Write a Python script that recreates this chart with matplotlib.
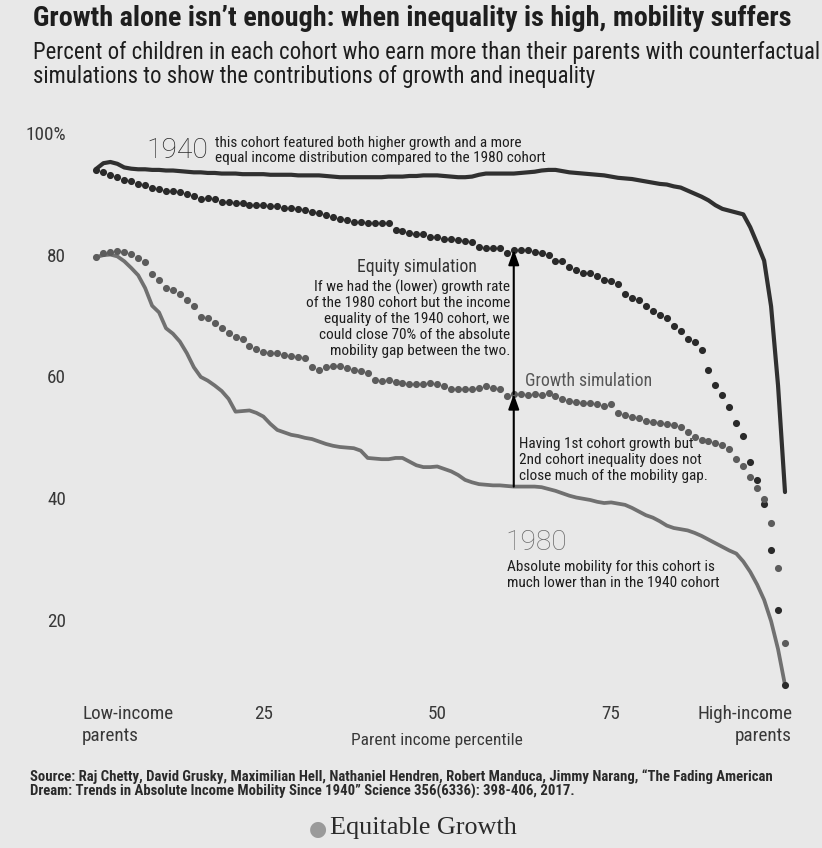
import matplotlib
matplotlib.use("Agg")
import matplotlib.pyplot as plt
from matplotlib import font_manager

# ---------------- data ----------------
percentiles = list(range(1, 101))

cohort_1940 = [94.1, 95.0, 95.2, 94.9, 94.3, 94.1, 94.0, 94.0, 93.9, 93.9,
               93.8, 93.8, 93.7, 93.6, 93.5, 93.5, 93.4, 93.4, 93.3, 93.3,
               93.3, 93.2, 93.2, 93.2, 93.2, 93.1, 93.1, 93.1, 93.1, 93.0,
               93.0, 93.0, 93.0, 92.9, 92.8, 92.7, 92.7, 92.7, 92.7, 92.7,
               92.7, 92.7, 92.8, 92.8, 92.8, 92.9, 92.9, 93.0, 93.0, 93.0,
               92.9, 92.8, 92.7, 92.7, 92.8, 93.1, 93.3, 93.3, 93.3, 93.3,
               93.3, 93.4, 93.5, 93.6, 93.8, 93.9, 93.9, 93.7, 93.5, 93.4,
               93.3, 93.2, 93.1, 93.0, 92.8, 92.6, 92.5, 92.4, 92.2, 92.0,
               91.8, 91.6, 91.5, 91.2, 91.0, 90.5, 90.0, 89.5, 88.9, 88.1,
               87.5, 87.2, 86.9, 86.6, 84.5, 81.8, 79.0, 71.5, 58.5, 41.0]

equity_sim = [93.9, 93.5, 93.1, 92.7, 92.3, 92.0, 91.6, 91.4, 91.0, 90.7,
              90.5, 90.5, 90.3, 89.9, 89.6, 89.1, 89.3, 89.1, 88.7, 88.6,
              88.5, 88.4, 88.2, 88.1, 88.1, 88.0, 87.9, 87.7, 87.6, 87.4,
              87.3, 87.0, 86.8, 86.5, 86.2, 85.9, 85.6, 85.4, 85.4, 85.2,
              85.1, 85.1, 85.2, 84.1, 83.8, 83.6, 83.3, 83.4, 82.8, 82.8,
              82.6, 82.5, 82.4, 82.3, 82.1, 81.3, 81.1, 81.1, 81.1, 80.3,
              80.8, 80.8, 80.7, 80.5, 80.3, 80.0, 79.0, 78.9, 77.9, 77.5,
              76.9, 76.9, 76.4, 75.9, 75.6, 75.2, 73.6, 72.9, 72.6, 71.5,
              70.8, 70.1, 69.6, 68.2, 67.4, 66.2, 65.6, 64.4, 61.1, 58.5,
              56.9, 54.9, 52.3, 50.2, 45.9, 43.0, 39.0, 31.5, 21.6, 9.3]

growth_sim = [79.6, 80.3, 80.5, 80.6, 80.4, 80.1, 79.4, 78.7, 76.8, 75.9,
              74.5, 74.2, 73.5, 72.5, 71.5, 69.7, 69.5, 68.7, 67.9, 67.2,
              66.4, 66.1, 65.0, 64.5, 64.0, 63.9, 63.8, 63.5, 63.3, 63.2,
              63.0, 61.6, 61.0, 61.6, 61.7, 61.7, 61.3, 61.0, 60.9, 60.5,
              59.4, 59.3, 59.4, 59.1, 58.9, 58.8, 58.8, 58.8, 58.9, 58.8,
              58.4, 58.0, 57.9, 57.9, 58.0, 58.1, 58.4, 58.1, 58.0, 56.7,
              57.1, 57.1, 57.0, 57.1, 57.0, 57.3, 56.7, 56.3, 56.0, 55.8,
              55.7, 55.6, 55.4, 55.1, 55.4, 53.9, 53.6, 53.3, 53.1, 52.7,
              52.5, 52.3, 52.1, 52.0, 51.7, 50.9, 50.0, 49.6, 49.4, 49.0,
              48.7, 48.1, 46.5, 45.2, 43.5, 41.6, 39.8, 35.9, 28.5, 16.2]

cohort_1980 = [79.6, 79.9, 80.0, 79.7, 78.9, 77.8, 76.6, 74.5, 71.6, 70.5,
               67.9, 67.0, 65.7, 63.8, 61.5, 59.9, 59.3, 58.5, 57.6, 56.3,
               54.2, 54.3, 54.4, 54.0, 53.4, 52.2, 51.2, 50.8, 50.4, 50.2,
               49.9, 49.7, 49.3, 48.9, 48.6, 48.4, 48.3, 48.2, 47.8, 46.6,
               46.5, 46.4, 46.4, 46.6, 46.6, 46.0, 45.4, 45.1, 45.1, 45.2,
               44.8, 44.4, 43.8, 43.0, 42.6, 42.3, 42.2, 42.1, 42.1, 42.0,
               41.9, 41.9, 41.9, 41.9, 41.8, 41.5, 41.2, 40.8, 40.4, 40.1,
               39.9, 39.7, 39.4, 39.2, 39.3, 39.1, 38.9, 38.4, 37.8, 37.2,
               36.8, 36.2, 35.5, 35.1, 34.9, 34.7, 34.3, 33.8, 33.2, 32.6,
               32.0, 31.4, 30.9, 29.6, 27.9, 25.8, 23.3, 19.8, 15.2, 9.3]

y_ticks = [20, 40, 60, 80, 100]
y_tick_labels = ["20", "40", "60", "80", "100%"]
x_ticks = [25, 50, 75]
x_tick_labels = ["25", "50", "75"]
arrow_pct = 61

# ---------------- style ----------------
names = {f.name for f in font_manager.fontManager.ttflist}
BASE = "Roboto Condensed" if "Roboto Condensed" in names else "Roboto"
FAM = [BASE, "DejaVu Sans"]
LIGHT = ["Roboto", "DejaVu Sans"]
plt.rcParams["font.family"] = FAM

BG = "#e8e8e8"
INK = "#1e1e1e"
W, H = 822, 848

fig = plt.figure(figsize=(W / 100, H / 100), dpi=100, facecolor=BG)
renderer = fig.canvas.get_renderer()


def fx(px):
    return px / W


def fy(py):
    return 1 - py / H


def fitted_size(text, target_px, **kw):
    t = fig.text(0, 0, text, fontsize=10, **kw)
    w = t.get_window_extent(renderer).width
    t.remove()
    return 10 * target_px / w


# axes: x 0..100 -> px 89.5..785 ; y 5..100 -> px 711.3..132.75
ax = fig.add_axes([fx(89.5), fy(711.3), (785 - 89.5) / W, (711.3 - 132.75) / H])
ax.set_facecolor(BG)
ax.set_xlim(0, 100)
ax.set_ylim(5, 100)
for s in ax.spines.values():
    s.set_visible(False)

ax.plot(percentiles, cohort_1940, color="#303030", lw=3.0, solid_capstyle="round",
        solid_joinstyle="round", clip_on=False, zorder=3)
ax.plot(percentiles, cohort_1980, color="#707070", lw=2.7, solid_capstyle="round",
        solid_joinstyle="round", clip_on=False, zorder=3)
ax.plot(percentiles, equity_sim, ls="none", marker="o", ms=4.1, color="#2a2a2a",
        mec="#2a2a2a", clip_on=False, zorder=4)
ax.plot(percentiles, growth_sim, ls="none", marker="o", ms=4.1, color="#5c5c5c",
        mec="#5c5c5c", clip_on=False, zorder=4)

# arrows at the chosen percentile
i = arrow_pct - 1
ax.annotate("", xy=(arrow_pct, growth_sim[i]), xytext=(arrow_pct, cohort_1980[i]),
            arrowprops=dict(arrowstyle="-|>,head_length=0.9,head_width=0.32",
                            color="black", lw=1.5, shrinkA=0, shrinkB=0), zorder=5)
ax.annotate("", xy=(arrow_pct, equity_sim[i]), xytext=(arrow_pct, growth_sim[i]),
            arrowprops=dict(arrowstyle="-|>,head_length=0.9,head_width=0.32",
                            color="black", lw=1.5, shrinkA=0, shrinkB=0), zorder=5)

# ticks
tick_fs = fitted_size("Low-income", 91)
ax.set_yticks(y_ticks)
ax.set_yticklabels(y_tick_labels, fontsize=tick_fs, color="#383838")
ax.tick_params(axis="y", length=0, pad=17)
ax.set_xticks([])
for t, lab in zip(x_ticks, x_tick_labels):
    fig.text(fx(89.5 + 6.955 * t), fy(714), lab, ha="center", va="center",
             fontsize=tick_fs, color="#383838")
fig.text(fx(82), fy(714), "Low-income", ha="left", va="center", fontsize=tick_fs, color="#383838")
fig.text(fx(82), fy(736), "parents", ha="left", va="center", fontsize=tick_fs, color="#383838")
fig.text(fx(792), fy(714), "High-income", ha="right", va="center", fontsize=tick_fs, color="#383838")
fig.text(fx(792), fy(736), "parents", ha="right", va="center", fontsize=tick_fs, color="#383838")
xl_fs = fitted_size("Parent income percentile", 170)
fig.text(fx(437), fy(740), "Parent income percentile", ha="center", va="center",
         fontsize=xl_fs, color="#383838")

# titles
title = "Growth alone isn\u2019t enough: when inequality is high, mobility suffers"
tfs = fitted_size(title, 757, weight="bold")
fig.text(fx(33), fy(18), title, ha="left", va="center", fontsize=tfs, weight="bold", color=INK)
sub1 = "Percent of children in each cohort who earn more than their parents with counterfactual"
sfs = fitted_size(sub1, 782)
fig.text(fx(33), fy(52), sub1, ha="left", va="center", fontsize=sfs, color=INK)
fig.text(fx(33), fy(76), "simulations to show the contributions of growth and inequality",
         ha="left", va="center", fontsize=sfs, color=INK)

# annotations
note_fs = fitted_size("If we had the (lower) growth rate", 195)
big_fs = fitted_size("1940", 62, family=LIGHT, weight="light")
fig.text(fx(146), fy(151), "1940", ha="left", va="center", fontsize=big_fs,
         family=LIGHT, weight="light", color="#2a2a2a")
fig.text(fx(215), fy(143), "this cohort featured both higher growth and a more",
         ha="left", va="center", fontsize=note_fs, color=INK)
fig.text(fx(215), fy(158), "equal income distribution compared to the 1980 cohort",
         ha="left", va="center", fontsize=note_fs, color=INK)

lab_fs = fitted_size("Equity simulation", 119)
fig.text(fx(417), fy(267), "Equity simulation", ha="center", va="center",
         fontsize=lab_fs, color="#333333")
eq_lines = ["If we had the (lower) growth rate", "of the 1980 cohort but the income",
            "equality of the 1940 cohort, we", "could close 70% of the absolute",
            "mobility gap between the two."]
for k, line in enumerate(eq_lines):
    fig.text(fx(510), fy(287 + 16 * k), line, ha="right", va="center",
             fontsize=note_fs, color=INK)

fig.text(fx(525), fy(381), "Growth simulation", ha="left", va="center",
         fontsize=lab_fs, color="#555555")
gr_lines = ["Having 1st cohort growth but", "2nd cohort inequality does not",
            "close much of the mobility gap."]
for k, line in enumerate(gr_lines):
    fig.text(fx(519), fy(444 + 16 * k), line, ha="left", va="center",
             fontsize=note_fs, color=INK)

fig.text(fx(505), fy(543), "1980", ha="left", va="center", fontsize=big_fs,
         family=LIGHT, weight="light", color="#6b6b6b")
fig.text(fx(507), fy(567), "Absolute mobility for this cohort is", ha="left",
         va="center", fontsize=note_fs, color=INK)
fig.text(fx(507), fy(583), "much lower than in the 1940 cohort", ha="left",
         va="center", fontsize=note_fs, color=INK)

# source
src1 = ("Source: Raj Chetty, David Grusky, Maximilian Hell, Nathaniel Hendren, "
        "Robert Manduca, Jimmy Narang, \u201cThe Fading American")
src_fs = fitted_size(src1, 745, weight="bold")
fig.text(fx(30), fy(777), src1, ha="left", va="center",
         fontsize=src_fs, weight="bold", color="#2a2a2a")
fig.text(fx(30), fy(791), "Dream: Trends in Absolute Income Mobility Since 1940\u201d Science "
         "356(6336): 398-406, 2017.", ha="left", va="center",
         fontsize=src_fs, weight="bold", color="#2a2a2a")

# logo
SERIF = ["Liberation Serif", "DejaVu Serif"]
logo_fs = fitted_size("Equitable Growth", 187, family=SERIF)
fig.text(fx(318), fy(829), "\u25cf", ha="center", va="center", fontsize=15,
         family="DejaVu Sans", color="#9a9a9a")
fig.text(fx(330), fy(828), "Equitable Growth", ha="left", va="center", fontsize=logo_fs,
         family=SERIF, color="#2a2a2a")

fig.savefig("out.png", dpi=100, facecolor=BG)
